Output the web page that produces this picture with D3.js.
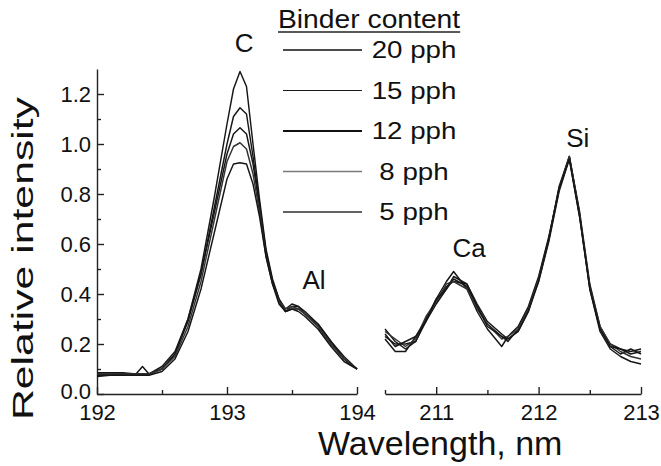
<!DOCTYPE html>
<html>
<head>
<meta charset="utf-8">
<script src="https://cdn.jsdelivr.net/npm/d3@7"></script>
<style>
  body { margin: 0; background: #fff; }
  svg { display: block; font-family: "Liberation Sans", Arial, sans-serif; }
  .axis path, .axis line { stroke: #222; stroke-width: 1.4; }
</style>
</head>
<body>
<svg id="chart" width="661" height="466"></svg>
<script>
// wavelengths (nm) of the sampled points, C/Al window and Ca/Si window
const leftWl  = [192.0, 192.1, 192.2, 192.3, 192.35, 192.4, 192.5, 192.6, 192.7, 192.8, 192.9, 193.0, 193.05,
                 193.1, 193.15, 193.2, 193.25, 193.3, 193.35, 193.4, 193.45, 193.5, 193.55, 193.6, 193.7, 193.8, 193.9, 194.0];
const rightWl = [210.5, 210.6, 210.7, 210.8, 210.9, 211.0, 211.1, 211.17, 211.3, 211.4, 211.5, 211.64, 211.7,
                 211.8, 211.9, 212.0, 212.1, 212.2, 212.3, 212.4, 212.5, 212.6, 212.7, 212.8, 212.9, 213.0];

const binderLabels = ["20 pph", "15 pph", "12 pph", "8 pph", "5 pph"];
const binderColors = ["#111", "#1a1a1a", "#111", "#7a7a7a", "#626262"];
const binderWidths = [1.6, 1.1, 1.9, 1.6, 2.0];

// relative intensity, C / Al region
const left20 = [0.08, 0.08, 0.08, 0.08, 0.08, 0.08, 0.10, 0.16, 0.30, 0.50, 0.78, 1.08, 1.22, 1.29, 1.23, 1.00, 0.78, 0.58, 0.46, 0.38, 0.33, 0.34, 0.34, 0.32, 0.28, 0.21, 0.14, 0.10];
const left15 = [0.07, 0.075, 0.08, 0.08, 0.08, 0.08, 0.10, 0.16, 0.29, 0.48, 0.74, 1.00, 1.11, 1.145, 1.12, 0.95, 0.76, 0.57, 0.45, 0.37, 0.33, 0.35, 0.35, 0.32, 0.27, 0.20, 0.14, 0.10];
const left12 = [0.085, 0.085, 0.085, 0.08, 0.11, 0.08, 0.11, 0.17, 0.30, 0.48, 0.72, 0.96, 1.04, 1.065, 1.04, 0.92, 0.75, 0.56, 0.45, 0.38, 0.34, 0.36, 0.35, 0.33, 0.28, 0.21, 0.15, 0.10];
const left8  = [0.08, 0.08, 0.08, 0.08, 0.08, 0.08, 0.10, 0.15, 0.27, 0.45, 0.69, 0.93, 0.99, 1.005, 0.98, 0.88, 0.73, 0.55, 0.44, 0.37, 0.34, 0.35, 0.34, 0.32, 0.27, 0.20, 0.14, 0.10];
const left5  = [0.075, 0.075, 0.075, 0.075, 0.075, 0.075, 0.09, 0.14, 0.25, 0.42, 0.64, 0.86, 0.92, 0.925, 0.92, 0.84, 0.71, 0.55, 0.44, 0.36, 0.33, 0.34, 0.33, 0.31, 0.26, 0.19, 0.13, 0.10];

// relative intensity, Ca / Si region
const right20 = [0.26, 0.21, 0.18, 0.21, 0.30, 0.38, 0.45, 0.49, 0.42, 0.33, 0.26, 0.19, 0.23, 0.27, 0.35, 0.47, 0.63, 0.82, 0.95, 0.72, 0.42, 0.25, 0.18, 0.15, 0.13, 0.12];
const right15 = [0.22, 0.17, 0.17, 0.23, 0.30, 0.37, 0.43, 0.45, 0.44, 0.36, 0.29, 0.24, 0.22, 0.25, 0.33, 0.46, 0.62, 0.83, 0.95, 0.73, 0.44, 0.27, 0.20, 0.18, 0.16, 0.17];
const right12 = [0.23, 0.20, 0.20, 0.21, 0.29, 0.36, 0.42, 0.46, 0.43, 0.35, 0.28, 0.23, 0.21, 0.26, 0.34, 0.45, 0.61, 0.81, 0.94, 0.71, 0.43, 0.26, 0.19, 0.16, 0.18, 0.16];
const right8  = [0.25, 0.22, 0.19, 0.22, 0.31, 0.37, 0.44, 0.45, 0.42, 0.34, 0.28, 0.22, 0.23, 0.26, 0.34, 0.46, 0.62, 0.82, 0.95, 0.72, 0.43, 0.27, 0.20, 0.17, 0.15, 0.14];
const right5  = [0.24, 0.19, 0.21, 0.23, 0.29, 0.38, 0.42, 0.47, 0.44, 0.35, 0.27, 0.23, 0.22, 0.25, 0.33, 0.45, 0.62, 0.82, 0.94, 0.71, 0.42, 0.26, 0.19, 0.18, 0.17, 0.18];

const leftSeries  = [left20, left15, left12, left8, left5];
const rightSeries = [right20, right15, right12, right8, right5];

const peakLabels = [
  { text: "C",  panel: "left",  wl: 193.06, v: 1.37 },
  { text: "Al", panel: "left",  wl: 193.58, v: 0.42 },
  { text: "Ca", panel: "right", wl: 211.16, v: 0.55 },
  { text: "Si", panel: "right", wl: 212.27, v: 0.99 }
];

const svg = d3.select("#chart");

// scales
const y = d3.scaleLinear().domain([0, 1.3]).range([394, 69]);
const xL = d3.scaleLinear().domain([192, 194]).range([97, 357]);
const xR = d3.scaleLinear().domain([210.5, 213]).range([385, 641]);

function styleTicks(g) {
  g.selectAll(".tick text")
    .style("font-family", '"Liberation Sans", Arial, sans-serif')
    .style("font-size", "22px")
    .style("fill", "#111");
}

// --- axes ---
function bottomAxis(x, majors, minors) {
  const g = svg.append("g").attr("class", "axis").attr("transform", `translate(0,${y(0)})`);
  g.call(d3.axisBottom(x).tickValues(minors).tickSizeInner(-4).tickSizeOuter(0).tickFormat(""));
  g.append("g").call(d3.axisBottom(x).tickValues(majors).tickSizeInner(-7).tickSizeOuter(0)
      .tickPadding(10).tickFormat(d3.format("d")))
    .call(a => a.select(".domain").remove())
    .call(styleTicks);
  return g;
}
bottomAxis(xL, [192, 193, 194], [192.5, 193.5]);
bottomAxis(xR, [211, 212, 213], [210.5, 211.5, 212.5]);

const yAxis = svg.append("g").attr("class", "axis").attr("transform", `translate(${xL(192)},0)`);
yAxis.call(d3.axisLeft(y).tickValues([0.1, 0.3, 0.5, 0.7, 0.9, 1.1]).tickSizeInner(-4).tickSizeOuter(0).tickFormat(""));
yAxis.append("g").call(d3.axisLeft(y).tickValues([0, 0.2, 0.4, 0.6, 0.8, 1.0, 1.2]).tickSizeInner(-7).tickSizeOuter(0)
    .tickPadding(6).tickFormat(d3.format(".1f")))
  .call(a => a.select(".domain").remove())
  .call(styleTicks);
yAxis.selectAll(".tick text").attr("dy", d => d === 0 ? "0.2em" : "0.36em");

// --- curves ---
const lineL = d3.line().x(d => xL(d[0])).y(d => y(d[1]));
const lineR = d3.line().x(d => xR(d[0])).y(d => y(d[1]));

const curves = svg.append("g").attr("fill", "none").attr("stroke-linejoin", "round");
binderLabels.forEach((lab, i) => {
  const c = i === 3 ? "#333" : "#161616";
  curves.append("path")
    .datum(leftWl.map((w, j) => [w, leftSeries[i][j]]))
    .attr("d", lineL)
    .attr("stroke", c)
    .attr("stroke-width", 1.45);
  curves.append("path")
    .datum(rightWl.map((w, j) => [w, rightSeries[i][j]]))
    .attr("d", lineR)
    .attr("stroke", c)
    .attr("stroke-width", 1.45);
});

// --- peak labels ---
svg.selectAll(".peak").data(peakLabels).enter().append("text")
  .attr("class", "peak")
  .attr("x", d => (d.panel === "left" ? xL : xR)(d.wl))
  .attr("y", d => y(d.v))
  .attr("font-size", 26)
  .attr("fill", "#111")
  .text(d => d.text);

// --- legend ---
const stretch = 1.13;
const title = svg.append("text").attr("x", 278).attr("y", 28).attr("font-size", 25).attr("fill", "#111")
  .text("Binder content");
const tw = title.node().getComputedTextLength() * stretch;
title.attr("textLength", tw).attr("lengthAdjust", "spacingAndGlyphs");
svg.append("line").attr("x1", 278).attr("x2", 278 + tw).attr("y1", 32).attr("y2", 32)
  .attr("stroke", "#222").attr("stroke-width", 1.6);

const legend = svg.append("g");
binderLabels.forEach((lab, i) => {
  const ly = 50 + i * 40.5;
  legend.append("line").attr("x1", 283).attr("x2", 362).attr("y1", ly).attr("y2", ly)
    .attr("stroke", binderColors[i]).attr("stroke-width", binderWidths[i]);
  const t = legend.append("text").attr("x", 414).attr("y", ly + 8).attr("text-anchor", "middle")
    .attr("font-size", 24.5).attr("fill", "#111").text(lab);
  t.attr("textLength", t.node().getComputedTextLength() * stretch).attr("lengthAdjust", "spacingAndGlyphs");
});

// --- axis titles ---
svg.append("text")
  .attr("transform", `translate(33,${(97 + 420) / 2}) rotate(-90)`)
  .attr("text-anchor", "middle")
  .attr("font-size", 30)
  .attr("fill", "#111")
  .attr("textLength", 323)
  .attr("lengthAdjust", "spacingAndGlyphs")
  .text("Relative intensity");

svg.append("text")
  .attr("x", 318).attr("y", 455)
  .attr("font-size", 34)
  .attr("fill", "#111")
  .text("Wavelength, nm");
</script>
</body>
</html>
